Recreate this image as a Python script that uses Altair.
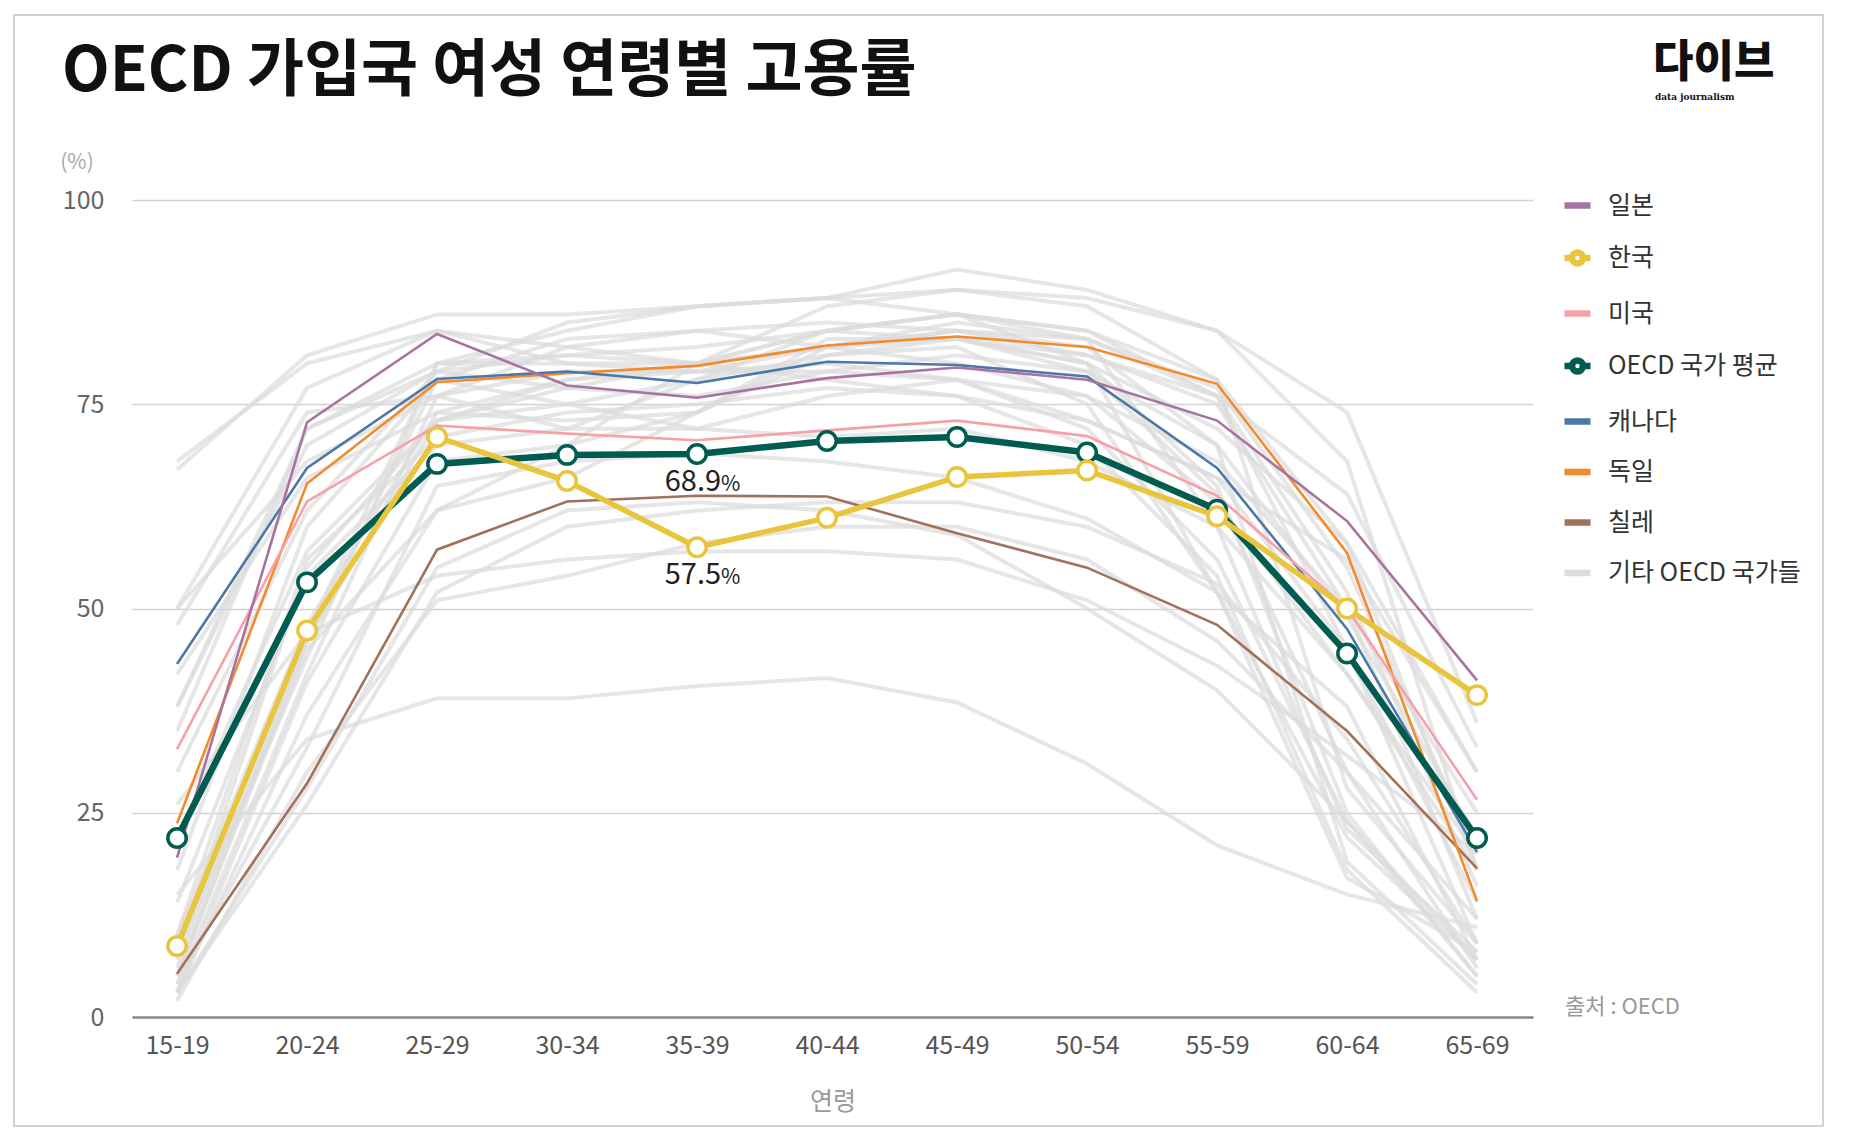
import altair as alt
import pandas as pd

FONT = "Noto Sans CJK KR"

ages = ["15-19", "20-24", "25-29", "30-34", "35-39", "40-44",
        "45-49", "50-54", "55-59", "60-64", "65-69"]

legend_names = ["일본", "한국", "미국", "OECD 국가 평균", "캐나다", "독일", "칠레", "기타 OECD 국가들"]
legend_colors = ["#a8739f", "#e9c53e", "#f6a0a8", "#005b50", "#4d77a8", "#f28b2c", "#a0725a", "#dcdcdc"]

japan = [19.5, 72.8, 83.6, 77.3, 75.8, 78.2, 79.5, 78.0, 73.0, 60.7, 41.2]
korea = [8.7, 47.3, 71.0, 65.6, 57.5, 61.1, 66.1, 66.9, 61.3, 50.0, 39.4]
usa = [32.8, 63.1, 72.4, 71.4, 70.6, 71.8, 73.0, 71.1, 63.8, 50.0, 26.6]
oecd = [21.9, 53.2, 67.7, 68.8, 68.9, 70.5, 71.0, 69.1, 62.1, 44.5, 21.9]
canada = [43.2, 67.2, 78.1, 79.0, 77.6, 80.2, 79.8, 78.4, 67.2, 47.5, 20.2]
germany = [23.7, 65.3, 77.7, 78.8, 79.7, 82.2, 83.3, 82.0, 77.5, 56.8, 14.2]
chile = [5.3, 28.6, 57.2, 63.1, 63.8, 63.7, 59.2, 55.0, 48.0, 35.0, 18.2]

others = [
    [67, 81, 86, 86, 87, 88, 91.5, 89, 84, 74, 36],
    [68, 80, 84, 80, 79, 80, 78, 73, 66, 45, 14],
    [50, 77, 84, 82, 80, 82, 84, 83, 77, 55, 20],
    [50, 68, 76, 82, 84, 85, 84, 81, 75, 50, 12],
    [30, 62, 79, 85, 87, 88, 89, 88, 84, 68, 18],
    [38, 72, 79, 81, 82, 84, 83, 80, 72, 58, 18],
    [42, 66, 74, 73, 74, 81, 83, 81, 76, 64, 33],
    [48, 74, 76, 72, 72, 76, 78, 76, 68, 50, 25],
    [38, 70, 79, 77, 76, 79, 81, 79, 70, 49, 22],
    [35, 72, 80, 80, 80, 84, 86, 83, 60, 23, 8],
    [22, 57, 73, 77, 80, 84, 86, 84, 76, 45, 9],
    [14, 54, 70, 72, 78, 84, 86, 84, 78, 58, 30],
    [10, 48, 74, 78, 80, 82, 83, 79, 64, 30, 6],
    [4, 42, 76, 79, 79, 79, 78, 72, 56, 24, 5],
    [4, 33, 65, 68, 69, 68, 66, 61, 52, 38, 7],
    [3, 26, 52, 60, 62, 63, 63, 60, 53, 34, 9],
    [3, 28, 55, 62, 63, 62, 59, 50, 40, 24, 7],
    [26, 47, 54, 56, 57, 57, 56, 51, 43, 32, 20],
    [5, 45, 62, 70, 80, 87, 89, 87, 78, 28, 9],
    [3, 37, 62, 66, 74, 82, 84, 82, 70, 19, 4],
    [3, 41, 68, 70, 74, 83, 83, 80, 65, 25, 5],
    [5, 46, 73, 75, 78, 81, 82, 75, 52, 22, 7],
    [8, 44, 80, 84, 87, 88, 86, 80, 52, 17, 8],
    [6, 46, 78, 83, 84, 82, 80, 76, 63, 42, 20],
    [18, 60, 78, 75, 72, 71, 72, 68, 60, 42, 18],
    [10, 56, 71, 74, 75, 77, 76, 73, 66, 56, 30],
    [7, 47, 80, 81, 80, 78, 76, 70, 54, 18, 3],
    [8, 55, 73, 78, 79, 82, 85, 83, 76, 52, 16],
    [15, 34, 39, 39, 40.5, 41.5, 38.5, 31, 21, 15, 11],
    [2, 30, 51, 54, 58, 60, 60, 56, 46, 30, 12],
]

# ---- build tables ----
def series_rows(name, legend, values):
    return [{"country": name, "legend": legend, "age": a, "value": v} for a, v in zip(ages, values)]

gray_rows = []
for i, vals in enumerate(others):
    gray_rows += series_rows(f"other{i}", "기타 OECD 국가들", vals)
gray_df = pd.DataFrame(gray_rows)

thin_df = pd.DataFrame(
    series_rows("칠레", "칠레", chile)
    + series_rows("독일", "독일", germany)
    + series_rows("캐나다", "캐나다", canada)
    + series_rows("미국", "미국", usa)
    + series_rows("일본", "일본", japan)
)
oecd_df = pd.DataFrame(series_rows("OECD 국가 평균", "OECD 국가 평균", oecd))
korea_df = pd.DataFrame(series_rows("한국", "한국", korea))

ann_df = pd.DataFrame({
    "age": [ages[4], ages[4]],
    "value": [oecd[4], korea[4]],
    "label": [f"{oecd[4]:.1f}", f"{korea[4]:.1f}"],
})
one = pd.DataFrame({"a": [0]})

bar_path = "M-1,0H1"
ring_path = ("M-1,0H-0.42M0.42,0H1M0.42,0A0.42,0.42,0,1,1,-0.42,0"
             "A0.42,0.42,0,1,1,0.42,0")
legend_shapes = [bar_path, ring_path, bar_path, ring_path, bar_path, bar_path, bar_path, bar_path]

W, H = 1401, 817

color_scale = alt.Scale(domain=legend_names, range=legend_colors)
X = alt.X("age:N", sort=ages, scale=alt.Scale(type="point", padding=0.3885, align=0.446),
          axis=alt.Axis(title="연령", labelAngle=0, ticks=False, grid=False,
                        domainColor="#8a8a8a", domainWidth=2.5,
                        labelPadding=16, labelFontSize=25, labelColor="#555",
                        labelFont=FONT, titleFont=FONT, titleFontSize=25,
                        titleColor="#999", titleFontWeight="normal", titlePadding=31))
Y = alt.Y("value:Q", scale=alt.Scale(domain=[0, 100]),
          axis=alt.Axis(values=[0, 25, 50, 75, 100], title=None, domain=False, ticks=False,
                        labelPadding=28, labelFontSize=25, labelColor="#666", labelFont=FONT,
                        gridColor="#d3d3d3", gridWidth=1.3))
C = alt.Color("legend:N", scale=color_scale, legend=alt.Legend(title=None))

border = alt.Chart(one).mark_rect(fill="transparent", stroke="#c4c4c4", strokeWidth=1.5).encode(
    x=alt.value(-118), x2=alt.value(1691), y=alt.value(-185), y2=alt.value(926))

gray = alt.Chart(gray_df).mark_line().encode(
    x=X, y=Y, color=C, detail="country:N",
    strokeWidth=alt.value(4), opacity=alt.value(0.7))

thin = alt.Chart(thin_df).mark_line().encode(
    x=X, y=Y, color=C, detail="country:N", strokeWidth=alt.value(2.6))

oecd_line = alt.Chart(oecd_df).mark_line().encode(x=X, y=Y, color=C, strokeWidth=alt.value(6.5))
oecd_pts = alt.Chart(oecd_df).mark_point(filled=False, fill="white", shape="circle").encode(
    x=X, y=Y, color=C, size=alt.value(340), strokeWidth=alt.value(3.5), opacity=alt.value(1))
korea_line = alt.Chart(korea_df).mark_line().encode(x=X, y=Y, color=C, strokeWidth=alt.value(5.5))
korea_pts = alt.Chart(korea_df).mark_point(filled=False, fill="white", shape="circle").encode(
    x=X, y=Y, color=C, size=alt.value(340), strokeWidth=alt.value(3.5), opacity=alt.value(1))

legend_dummy = alt.Chart(thin_df).mark_point(filled=False).encode(
    x=X, y=Y, color=C,
    shape=alt.Shape("legend:N", scale=alt.Scale(domain=legend_names, range=legend_shapes),
                    legend=alt.Legend(title=None)),
).transform_filter("false")

ann_num = alt.Chart(ann_df).mark_text(align="right", baseline="alphabetic", dx=24, dy=37,
                                      fontSize=29, font=FONT, color="#222").encode(
    x=X, y=Y, text="label:N")
ann_pct = alt.Chart(ann_df).mark_text(align="left", baseline="alphabetic", dx=24, dy=37,
                                      fontSize=21, font=FONT, color="#222").encode(
    x=X, y=Y, text=alt.value("%"))

title = alt.Chart(one).mark_text(align="left", baseline="alphabetic", fontSize=62,
                                 fontWeight="bold", font=FONT, color="#111").encode(
    x=alt.value(-70), y=alt.value(-109), text=alt.value("OECD 가입국 여성 연령별 고용률"))
logo = alt.Chart(one).mark_text(align="left", baseline="alphabetic", fontSize=44,
                                fontWeight=900, font=FONT, color="#111").encode(
    x=alt.value(1521), y=alt.value(-123), text=alt.value("다이브"))
logo_sub = alt.Chart(one).mark_text(align="left", baseline="alphabetic", fontSize=9,
                                    fontWeight="bold", font="DejaVu Serif", color="#111").encode(
    x=alt.value(1523), y=alt.value(-100), text=alt.value("data journalism"))
unit = alt.Chart(one).mark_text(align="center", baseline="middle", fontSize=21,
                                font=FONT, color="#aaa").encode(
    x=alt.value(-55), y=alt.value(-37), text=alt.value("(%)"))
source = alt.Chart(one).mark_text(align="left", baseline="middle", fontSize=22,
                                  font=FONT, color="#999").encode(
    x=alt.value(1433), y=alt.value(807), text=alt.value("출처 : OECD"))

chart = alt.layer(
    border, gray, thin, oecd_line, oecd_pts, korea_line, korea_pts, legend_dummy,
    ann_num, ann_pct, title, logo, logo_sub, unit, source,
).properties(
    width=W, height=H,
    autosize=alt.AutoSizeParams(type="none"),
    padding={"left": 124, "top": 192, "right": 300, "bottom": 115},
    background="white",
).configure(font=FONT).configure_view(stroke=None).configure_legend(
    orient="none", legendX=1429, legendY=-11,
    labelFontSize=25, labelColor="#333", labelFont=FONT, labelLimit=0,
    symbolSize=676, symbolStrokeWidth=6.5, symbolOpacity=1,
    rowPadding=20.5, labelOffset=14,
)

chart.save("out.html", embed_options={"renderer": "svg", "actions": False})
